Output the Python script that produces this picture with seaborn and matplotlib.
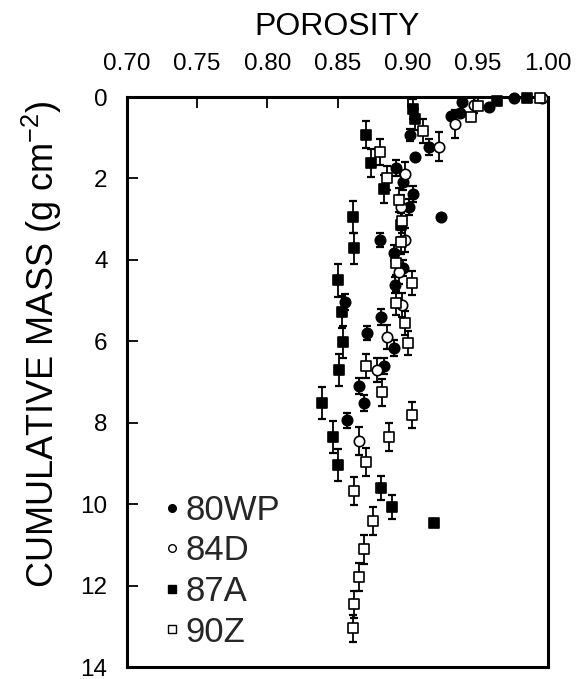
import matplotlib
matplotlib.use("Agg")
import matplotlib.pyplot as plt
import seaborn as sns
import pandas as pd
from matplotlib.lines import Line2D

# ---- data (porosity vs cumulative mass, g cm^-2) ----
wp80_por = [0.976, 0.958, 0.939, 0.937, 0.931, 0.902, 0.915, 0.905, 0.892, 0.897, 0.904, 0.901, 0.924,
            0.880, 0.890, 0.897, 0.891, 0.855, 0.881, 0.871, 0.890, 0.883, 0.865, 0.869, 0.857]
wp80_mass = [0.02, 0.25, 0.12, 0.39, 0.47, 0.93, 1.22, 1.47, 1.74, 2.09, 2.38, 2.70, 2.95,
             3.51, 3.83, 4.20, 4.62, 5.04, 5.41, 5.80, 6.17, 6.61, 7.10, 7.52, 7.94]
wp80_err = [0, 0, 0, 0, 0, 0.15, 0.2, 0, 0.2, 0.2, 0.2, 0.2, 0,
            0.18, 0.2, 0.2, 0.2, 0.2, 0.2, 0.18, 0.2, 0.2, 0.2, 0.2, 0.18]

d84_por = [0.996, 0.947, 0.934, 0.922, 0.898, 0.895, 0.898, 0.894, 0.896, 0.885, 0.878, 0.865]
d84_mass = [0.02, 0.20, 0.66, 1.22, 1.89, 2.70, 3.51, 4.30, 5.11, 5.90, 6.71, 8.45]
d84_err = [0, 0.2, 0.35, 0.35, 0.3, 0.3, 0.3, 0.3, 0.3, 0.3, 0.3, 0.35]

a87_por = [0.985, 0.964, 0.904, 0.905, 0.870, 0.874, 0.883, 0.861, 0.895, 0.862, 0.850, 0.853,
           0.854, 0.851, 0.839, 0.847, 0.850, 0.881, 0.889, 0.919]
a87_mass = [0.02, 0.10, 0.30, 0.55, 0.93, 1.62, 2.26, 2.95, 3.14, 3.71, 4.50, 5.28,
            6.02, 6.71, 7.52, 8.35, 9.04, 9.61, 10.07, 10.47]
a87_err = [0, 0, 0.25, 0.25, 0.33, 0.35, 0.35, 0.4, 0.3, 0.38, 0.4, 0.4,
           0.4, 0.4, 0.4, 0.4, 0.4, 0.3, 0.3, 0]

z90_por = [0.994, 0.950, 0.945, 0.911, 0.880, 0.885, 0.894, 0.896, 0.895, 0.892, 0.903, 0.892,
           0.898, 0.900, 0.870, 0.882, 0.903, 0.887, 0.870, 0.862, 0.875, 0.869, 0.865, 0.862, 0.861]
z90_mass = [0.02, 0.22, 0.49, 0.84, 1.35, 1.99, 2.53, 3.05, 3.56, 4.08, 4.57, 5.06,
            5.55, 6.04, 6.61, 7.25, 7.81, 8.35, 8.97, 9.68, 10.42, 11.11, 11.79, 12.46, 13.05]
z90_err = [0, 0, 0, 0.3, 0.33, 0.3, 0.3, 0.3, 0.3, 0.3, 0.3, 0.3,
           0.3, 0.3, 0.3, 0.33, 0.33, 0.35, 0.35, 0.35, 0.35, 0.35, 0.35, 0.33, 0.33]

series_names = ["80WP", "84D", "87A", "90Z"]
x_ticks = [0.70, 0.75, 0.80, 0.85, 0.90, 0.95, 1.00]
y_ticks = [0, 2, 4, 6, 8, 10, 12, 14]

frames = []
for name, px, py, pe in [("80WP", wp80_por, wp80_mass, wp80_err),
                         ("84D", d84_por, d84_mass, d84_err),
                         ("87A", a87_por, a87_mass, a87_err),
                         ("90Z", z90_por, z90_mass, z90_err)]:
    frames.append(pd.DataFrame({"series": name, "porosity": px, "mass": py, "err": pe}))
df = pd.concat(frames, ignore_index=True)

styles = {
    "80WP": dict(marker="o", face="black"),
    "84D": dict(marker="o", face="white"),
    "87A": dict(marker="s", face="black"),
    "90Z": dict(marker="s", face="white"),
}

sns.set_theme(style="white")
plt.rcParams["font.family"] = ["Liberation Sans", "DejaVu Sans"]

fig = plt.figure(figsize=(5.86, 6.79), dpi=100)
ax = fig.add_axes([127 / 586, 1 - 667 / 679, (548 - 127) / 586, (667 - 97) / 679])

for name in series_names:
    sub = df[df.series == name]
    ax.errorbar(sub.porosity, sub.mass, yerr=sub.err, fmt="none", ecolor="black",
                elinewidth=1.3, capsize=3.2, capthick=1.6, zorder=2)
for name in series_names:
    sub = df[df.series == name]
    st = styles[name]
    sns.scatterplot(data=sub, x="porosity", y="mass", marker=st["marker"], s=56,
                    color=st["face"], edgecolor="black", linewidth=1.2, ax=ax, zorder=3,
                    legend=False, clip_on=False)

ax.set_xlim(0.70, 1.00)
ax.set_ylim(14, 0)
ax.set_xticks(x_ticks)
ax.set_xticklabels([f"{t:.2f}" for t in x_ticks])
ax.set_yticks(y_ticks)
ax.set_yticklabels([str(t) for t in y_ticks])
ax.xaxis.tick_top()
ax.tick_params(axis="x", direction="in", length=8, width=1.3, pad=16, labelsize=17.5,
               top=True, bottom=False, labeltop=True, labelbottom=False, colors="black")
ax.tick_params(axis="y", direction="in", length=8, width=1.3, pad=14, labelsize=17.5,
               left=True, right=False, colors="black")
ax.set_xlabel("")
ax.set_ylabel("")
for sp in ax.spines.values():
    sp.set_linewidth(2.2)
    sp.set_color("black")

fig.text(337 / 586, 1 - 35 / 679, "POROSITY", ha="center", va="baseline", fontsize=23, color="black")
fig.text(42 / 586, 1 - 344 / 679, r"CUMULATIVE MASS (g cm$^{\mathregular{-2}}$)", ha="center", va="center",
         rotation=90, fontsize=26, color="black")

handles = []
for name in series_names:
    st = styles[name]
    handles.append(Line2D([], [], linestyle="none", marker=st["marker"], markersize=5.5,
                          markerfacecolor=st["face"], markeredgecolor="black", markeredgewidth=1.0))
leg = ax.legend(handles, series_names, loc="upper left", bbox_to_anchor=(0.086, 0.304),
                frameon=False, fontsize=25, handlelength=0.5, handletextpad=0.15,
                labelspacing=0.22, borderaxespad=0, borderpad=0)

fig.savefig("out.png", dpi=100)
